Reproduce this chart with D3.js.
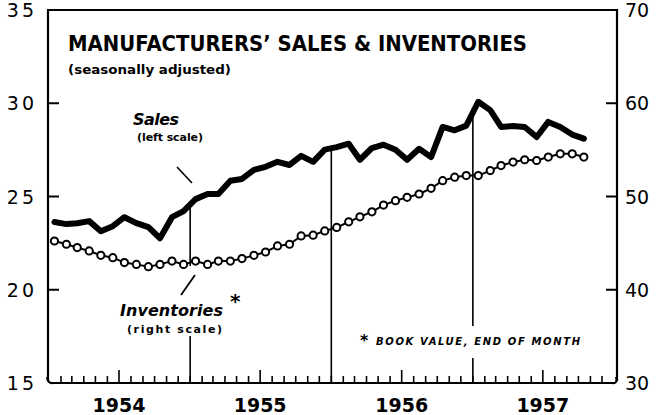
<!DOCTYPE html>
<html>
<head>
<meta charset="utf-8">
<script src="https://cdn.jsdelivr.net/npm/d3@7"></script>
<style>
body { margin: 0; background: #fff; }
svg { display: block; }
text { fill: #000; }
</style>
</head>
<body>
<div id="vis"></div>
<script>
// monthly values, Jan 1954 .. Oct 1957
var years = [1954, 1955, 1956, 1957];
var sales = [23.63, 23.52, 23.57, 23.68, 23.14, 23.41, 23.89, 23.57, 23.36, 22.76, 23.89, 24.22,
             24.86, 25.13, 25.13, 25.84, 25.94, 26.43, 26.59, 26.86, 26.69, 27.18, 26.86, 27.51,
             27.65, 27.83, 26.97, 27.60, 27.78, 27.51, 26.97, 27.56, 27.11, 28.73, 28.55, 28.80,
             30.08, 29.63, 28.73, 28.78, 28.73, 28.19, 29.00, 28.73, 28.32, 28.10];
var inventories = [45.23, 44.88, 44.52, 44.16, 43.69, 43.44, 42.91, 42.72, 42.47, 42.72, 43.08, 42.72,
                   43.08, 42.72, 43.08, 43.08, 43.34, 43.69, 44.05, 44.70, 44.88, 45.77, 45.85, 46.31,
                   46.68, 47.28, 47.82, 48.36, 49.08, 49.55, 49.91, 50.27, 50.88, 51.70, 52.07, 52.24,
                   52.24, 52.78, 53.32, 53.69, 53.94, 53.86, 54.23, 54.58, 54.58, 54.23];
var leftTicks = [15, 20, 25, 30, 35];
var rightTicks = [30, 40, 50, 60, 70];

var width = 657, height = 415;
var plotLeft = 48, plotRight = 617, plotTop = 10, plotBottom = 383;

var months = sales.map(function(d, i) { return new Date(1954, i, 15); });

var svg = d3.select('#vis').append('svg')
    .attr('width', width)
    .attr('height', height);

var x = d3.scaleTime()
    .domain([new Date(1954, 0, 1), new Date(1958, 0, 1)])
    .range([49, 614]);
var yL = d3.scaleLinear().domain([15, 35]).range([plotBottom, plotTop]);
var yR = d3.scaleLinear().domain([30, 70]).range([plotBottom, plotTop]);

var ink = '#000';

// frame
svg.append('path')
    .attr('d', 'M' + plotLeft + ',' + (plotBottom - 2) + 'V' + plotTop + 'H' + plotRight + 'V' + (plotBottom - 2))
    .attr('fill', 'none').attr('stroke', ink).attr('stroke-width', 2.2);
svg.append('path')
    .attr('d', 'M' + (plotLeft - 1) + ',' + (plotBottom - 6) + 'Q' + plotLeft + ',' + (plotBottom + 1) + ' ' + (plotLeft + 5) + ',' + plotBottom +
               'H' + (plotRight - 5) + 'Q' + (plotRight + 1) + ',' + (plotBottom + 1) + ' ' + (plotRight - 1) + ',' + (plotBottom - 6))
    .attr('fill', 'none').attr('stroke', ink).attr('stroke-width', 2.2);

// y ticks, drawn inward
var tickL = svg.append('g');
tickL.selectAll('line').data(leftTicks.filter(function(d) { return d > 15 && d < 35; }))
    .enter().append('line')
    .attr('x1', plotLeft).attr('x2', plotLeft + 11)
    .attr('y1', yL).attr('y2', yL)
    .attr('stroke', ink).attr('stroke-width', 2);
tickL.selectAll('text').data(leftTicks)
    .enter().append('text')
    .attr('x', 37).attr('y', function(d) { return yL(d) + 7; })
    .attr('text-anchor', 'end')
    .style('font', '19px "DejaVu Sans", sans-serif')
    .style('letter-spacing', '3px')
    .text(function(d) { return d; });

var tickR = svg.append('g');
tickR.selectAll('line').data(rightTicks.filter(function(d) { return d > 30 && d < 70; }))
    .enter().append('line')
    .attr('x1', plotRight - 11).attr('x2', plotRight)
    .attr('y1', yR).attr('y2', yR)
    .attr('stroke', ink).attr('stroke-width', 2);
tickR.selectAll('text').data(rightTicks)
    .enter().append('text')
    .attr('x', 625).attr('y', function(d) { return yR(d) + 7; })
    .style('font', '19px "DejaVu Sans", sans-serif')
    .text(function(d) { return d; });

// month ticks along the bottom
var monthTicks = d3.timeMonth.range(new Date(1954, 1, 1), new Date(1958, 0, 1));
svg.append('g').selectAll('line').data(monthTicks)
    .enter().append('line')
    .attr('x1', x).attr('x2', x)
    .attr('y1', plotBottom)
    .attr('y2', function(d) { return d.getMonth() === 6 ? plotBottom - 13 : plotBottom - 7; })
    .attr('stroke', ink).attr('stroke-width', 1.6);

svg.append('g').selectAll('text').data(years)
    .enter().append('text')
    .attr('x', function(d) { return x(new Date(d, 6, 1)); })
    .attr('y', 412)
    .attr('text-anchor', 'middle')
    .style('font', 'bold 19px "DejaVu Sans", sans-serif')
    .text(function(d) { return d; });

// year rules, broken where labels sit
var salesAt = function(date) {
    var i = d3.bisector(function(d) { return d; }).left(months, date);
    var a = months[i - 1], b = months[i];
    var t = (date - a) / (b - a);
    return sales[i - 1] + t * (sales[i] - sales[i - 1]);
};
var rules = [
    {date: new Date(1955, 0, 1), gaps: [[266, 336]]},
    {date: new Date(1956, 0, 1), gaps: []},
    {date: new Date(1957, 0, 1), gaps: [[326, 358]]}
];
rules.forEach(function(r) {
    var xx = x(r.date);
    var y0 = yL(salesAt(r.date));
    var segs = [], cur = y0;
    r.gaps.forEach(function(g) { segs.push([cur, g[0]]); cur = g[1]; });
    segs.push([cur, plotBottom]);
    svg.append('g').selectAll('line').data(segs)
        .enter().append('line')
        .attr('x1', xx).attr('x2', xx)
        .attr('y1', function(d) { return d[0]; })
        .attr('y2', function(d) { return d[1]; })
        .attr('stroke', ink).attr('stroke-width', 1.6);
});

// inventories (right scale)
svg.append('path')
    .datum(inventories)
    .attr('fill', 'none').attr('stroke', ink).attr('stroke-width', 2)
    .attr('d', d3.line()
        .x(function(d, i) { return x(months[i]); })
        .y(function(d) { return yR(d); }));
svg.append('g').selectAll('circle').data(inventories)
    .enter().append('circle')
    .attr('cx', function(d, i) { return x(months[i]); })
    .attr('cy', function(d) { return yR(d); })
    .attr('r', 3.6)
    .attr('fill', '#fff').attr('stroke', ink).attr('stroke-width', 2);

// sales (left scale)
svg.append('path')
    .datum(sales)
    .attr('fill', 'none').attr('stroke', ink).attr('stroke-width', 6)
    .attr('stroke-linejoin', 'round').attr('stroke-linecap', 'round')
    .attr('d', d3.line()
        .x(function(d, i) { return x(months[i]); })
        .y(function(d) { return yL(d); }));

// titles
svg.append('text')
    .attr('x', 68).attr('y', 51)
    .attr('textLength', 459).attr('lengthAdjust', 'spacingAndGlyphs')
    .style('font', 'bold 21px "DejaVu Sans", sans-serif')
    .text('MANUFACTURERS\u2019 SALES & INVENTORIES');
svg.append('text')
    .attr('x', 68).attr('y', 74)
    .attr('textLength', 163).attr('lengthAdjust', 'spacingAndGlyphs')
    .style('font', 'bold 13px "DejaVu Sans", sans-serif')
    .text('(seasonally adjusted)');

// series labels
svg.append('text')
    .attr('x', 133).attr('y', 125)
    .attr('textLength', 46)
    .style('font', 'italic bold 16px "DejaVu Sans", sans-serif')
    .text('Sales');
svg.append('text')
    .attr('x', 137).attr('y', 141)
    .attr('textLength', 66)
    .style('font', 'bold 11px "DejaVu Sans", sans-serif')
    .text('(left scale)');
svg.append('line')
    .attr('x1', 177).attr('y1', 167).attr('x2', 192).attr('y2', 183)
    .attr('stroke', ink).attr('stroke-width', 1.6);

svg.append('text')
    .attr('x', 120).attr('y', 316)
    .attr('textLength', 103)
    .style('font', 'italic bold 16px "DejaVu Sans", sans-serif')
    .text('Inventories');
svg.append('text')
    .attr('x', 230).attr('y', 308)
    .style('font', 'bold 20px "DejaVu Sans", sans-serif')
    .text('*');
svg.append('text')
    .attr('x', 127).attr('y', 333)
    .attr('textLength', 95)
    .style('font', 'bold 11px "DejaVu Sans", sans-serif')
    .text('(right scale)');
svg.append('line')
    .attr('x1', 181).attr('y1', 295).attr('x2', 195).attr('y2', 275)
    .attr('stroke', ink).attr('stroke-width', 1.8);

svg.append('text')
    .attr('x', 360).attr('y', 346)
    .style('font', 'bold 16px "DejaVu Sans", sans-serif')
    .text('*');
svg.append('text')
    .attr('x', 376).attr('y', 345)
    .attr('textLength', 204)
    .style('font', 'italic bold 10px "DejaVu Sans", sans-serif')
    .text('BOOK VALUE, END OF MONTH');
</script>
</body>
</html>
